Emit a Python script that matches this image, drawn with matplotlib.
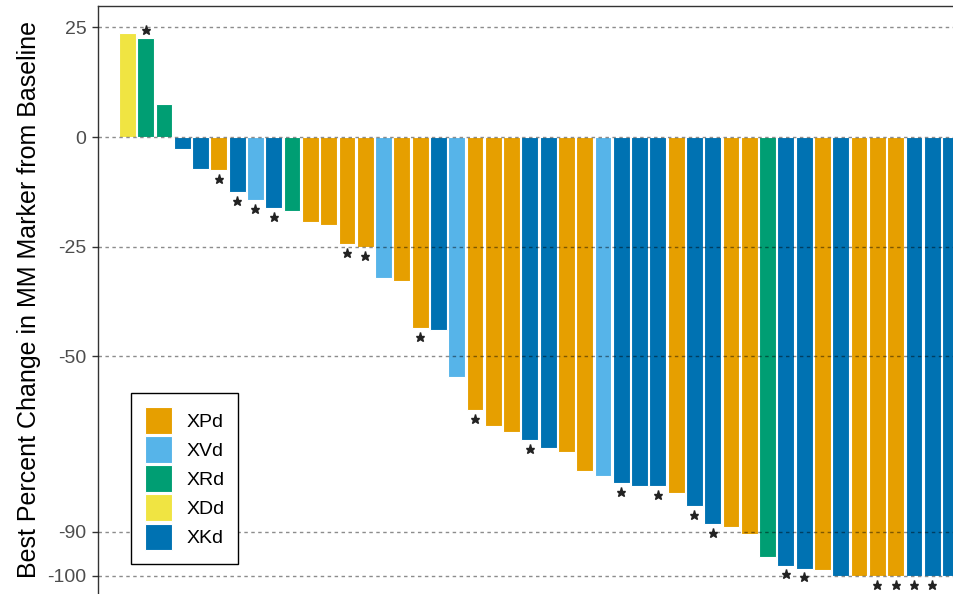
import matplotlib
matplotlib.use("Agg")
import matplotlib.pyplot as plt
from matplotlib.patches import Patch

plt.rcParams['font.family'] = ['Liberation Sans', 'DejaVu Sans']

# best percent change per patient, sorted, with regimen and flag
pct_change = [23.7, 22.5, 7.6, -2.8, -7.2, -7.6, -12.6, -14.3, -16.2, -16.9,
              -19.3, -20.0, -24.4, -25.0, -32.2, -32.7, -43.6, -43.9, -54.8, -62.3,
              -65.8, -67.3, -69.0, -70.9, -71.9, -76.2, -77.3, -78.8, -79.6, -79.6,
              -81.1, -84.2, -88.2, -89.0, -90.5, -95.8, -97.7, -98.4, -98.8, -100,
              -100, -100, -100, -100, -100, -100]
regimen = ["XDd", "XRd", "XRd", "XKd", "XKd", "XPd", "XKd", "XVd", "XKd", "XRd",
           "XPd", "XPd", "XPd", "XPd", "XVd", "XPd", "XPd", "XKd", "XVd", "XPd",
           "XPd", "XPd", "XKd", "XKd", "XPd", "XPd", "XVd", "XKd", "XKd", "XKd",
           "XPd", "XKd", "XKd", "XPd", "XPd", "XRd", "XKd", "XKd", "XPd", "XKd",
           "XPd", "XPd", "XPd", "XKd", "XKd", "XKd"]
flagged = [0, 1, 0, 0, 0, 1, 1, 1, 1, 0,
           0, 0, 1, 1, 0, 0, 1, 0, 0, 1,
           0, 0, 1, 0, 0, 0, 0, 1, 0, 1,
           0, 1, 1, 0, 0, 0, 1, 1, 0, 0,
           0, 1, 1, 1, 1, 0]

groups = ["XPd", "XVd", "XRd", "XDd", "XKd"]
group_colors = ["#E69F00", "#56B4E9", "#009E73", "#F0E442", "#0072B2"]
ref_lines = [25, 0, -25, -50, -90, -100]

cmap = dict(zip(groups, group_colors))

fig = plt.figure(figsize=(9.54, 5.94), dpi=100)
W, H = 954, 594

# axes intentionally run past the right and bottom edges of the figure
x0, x1 = -1.61, 48
y0, y1 = -110, 29.9
px_x, px_y = 18.29, 4.386
ax_w = (x1 - x0) * px_x
ax_h = (y1 - y0) * px_y
top_px = 6
ax = fig.add_axes([98 / W, (H - top_px - ax_h) / H, ax_w / W, ax_h / H])

xs = list(range(len(pct_change)))
ax.bar(xs, pct_change, width=0.92, color=[cmap[g] for g in regimen],
       edgecolor="white", linewidth=0.8, zorder=2)

for y in ref_lines:
    ax.axhline(y, color="black", alpha=0.45, lw=1.0, linestyle=(0, (2.5, 2.5)), zorder=3)

# flag markers just beyond the end of each flagged bar
sx = [x for x, f in zip(xs, flagged) if f]
sy = [v + (2 if v > 0 else -2) for v, f in zip(pct_change, flagged) if f]
ax.plot(sx, sy, linestyle="none", marker="*", ms=6.5, color="#222222", zorder=4)

ax.set_xlim(x0, x1)
ax.set_ylim(y0, y1)
ax.set_xticks([])
ax.set_yticks(ref_lines)
ax.set_yticklabels([str(v) for v in ref_lines])
ax.tick_params(axis="y", length=4.3, width=1, color="#333333", pad=4,
               labelsize=14, labelcolor="#4d4d4d")
for s in ax.spines.values():
    s.set_color("#333333")
    s.set_linewidth(1)

fig.text(29 / W, (H - 300) / H, "Best Percent Change in MM Marker from Baseline",
         rotation=90, ha="center", va="center", fontsize=18, color="black")

handles = [Patch(facecolor=c, edgecolor="white", linewidth=0.8) for c in group_colors]
leg = fig.legend(handles, groups, loc="lower left",
                 bbox_to_anchor=(131.3 / W, (H - 564.3) / H),
                 bbox_transform=fig.transFigure, borderaxespad=0,
                 fontsize=14, handlelength=1.37, handleheight=1.74,
                 labelspacing=0.12, handletextpad=0.74, borderpad=0.72,
                 fancybox=False, framealpha=1, edgecolor="black")
leg.get_frame().set_linewidth(1)

fig.savefig("out.png", dpi=100)
